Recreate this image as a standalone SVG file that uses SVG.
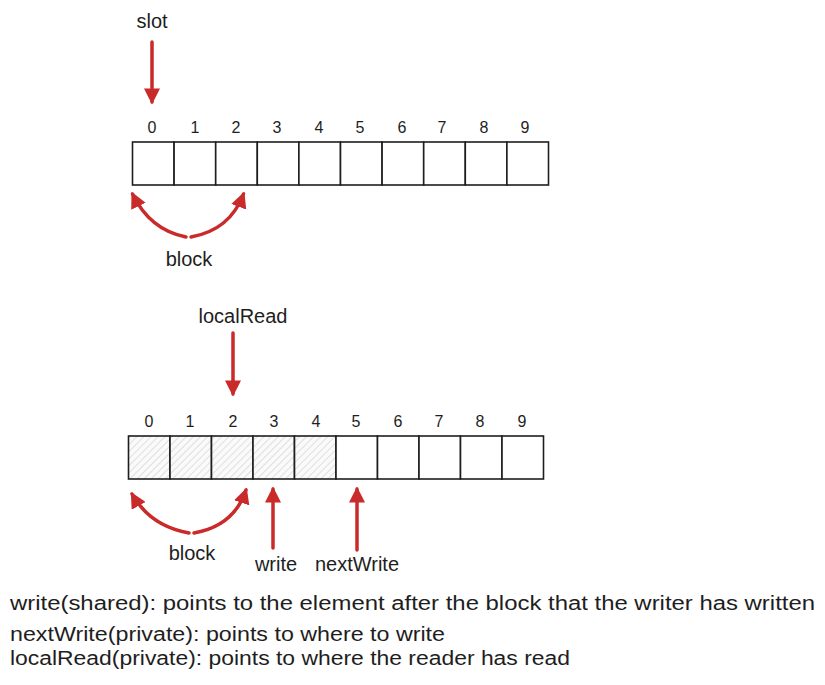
<svg xmlns="http://www.w3.org/2000/svg" width="825" height="685" viewBox="0 0 825 685">
<style>
text{font-family:"Liberation Sans",Arial,sans-serif;fill:#1e1e1e}
.num{font-size:16px;text-anchor:middle}
.lbl{font-size:20px;text-anchor:middle}
.note{font-size:20px}
.cell{fill:#fff;stroke:#1e1e1e;stroke-width:1.6}
.hcell{fill:url(#hatch);stroke:#1e1e1e;stroke-width:1.6}
.arr{fill:none;stroke:#c92a2a;stroke-width:3.5;stroke-linecap:round;marker-end:url(#head)}
</style>
<defs>
<marker id="head" viewBox="0 0 10 10" refX="8.5" refY="5" markerWidth="16" markerHeight="16" markerUnits="userSpaceOnUse" orient="auto">
<path d="M0,0 L10,5 L0,10 Z" fill="#c92a2a"/>
</marker>
<pattern id="hatch" patternUnits="userSpaceOnUse" width="5" height="5" patternTransform="rotate(45)">
<rect width="5" height="5" fill="#fafafa"/>
<line x1="0" y1="0" x2="0" y2="5" stroke="#c4c4c4" stroke-width="1"/>
</pattern>
</defs>

<g id="array-top">
<g id="top-cell-0"><rect class="cell" x="132.5" y="142" width="41.6" height="43"/><text class="num" x="152" y="133">0</text></g>
<g id="top-cell-1"><rect class="cell" x="174.1" y="142" width="41.6" height="43"/><text class="num" x="195" y="133">1</text></g>
<g id="top-cell-2"><rect class="cell" x="215.7" y="142" width="41.6" height="43"/><text class="num" x="236" y="133">2</text></g>
<g id="top-cell-3"><rect class="cell" x="257.3" y="142" width="41.6" height="43"/><text class="num" x="277" y="133">3</text></g>
<g id="top-cell-4"><rect class="cell" x="298.9" y="142" width="41.6" height="43"/><text class="num" x="319" y="133">4</text></g>
<g id="top-cell-5"><rect class="cell" x="340.5" y="142" width="41.6" height="43"/><text class="num" x="360" y="133">5</text></g>
<g id="top-cell-6"><rect class="cell" x="382.1" y="142" width="41.6" height="43"/><text class="num" x="402" y="133">6</text></g>
<g id="top-cell-7"><rect class="cell" x="423.7" y="142" width="41.6" height="43"/><text class="num" x="442" y="133">7</text></g>
<g id="top-cell-8"><rect class="cell" x="465.3" y="142" width="41.6" height="43"/><text class="num" x="484" y="133">8</text></g>
<g id="top-cell-9"><rect class="cell" x="506.9" y="142" width="41.6" height="43"/><text class="num" x="525" y="133">9</text></g>
</g>

<g id="array-bottom">
<g id="bot-cell-0"><rect class="hcell" x="128.5" y="436" width="41.5" height="43"/><text class="num" x="149" y="427">0</text></g>
<g id="bot-cell-1"><rect class="hcell" x="170" y="436" width="41.5" height="43"/><text class="num" x="190" y="427">1</text></g>
<g id="bot-cell-2"><rect class="hcell" x="211.5" y="436" width="41.5" height="43"/><text class="num" x="233" y="427">2</text></g>
<g id="bot-cell-3"><rect class="hcell" x="253" y="436" width="41.5" height="43"/><text class="num" x="274" y="427">3</text></g>
<g id="bot-cell-4"><rect class="hcell" x="294.5" y="436" width="41.5" height="43"/><text class="num" x="316" y="427">4</text></g>
<g id="bot-cell-5"><rect class="cell" x="336" y="436" width="41.5" height="43"/><text class="num" x="356" y="427">5</text></g>
<g id="bot-cell-6"><rect class="cell" x="377.5" y="436" width="41.5" height="43"/><text class="num" x="398" y="427">6</text></g>
<g id="bot-cell-7"><rect class="cell" x="419" y="436" width="41.5" height="43"/><text class="num" x="439" y="427">7</text></g>
<g id="bot-cell-8"><rect class="cell" x="460.5" y="436" width="41.5" height="43"/><text class="num" x="480" y="427">8</text></g>
<g id="bot-cell-9"><rect class="cell" x="502" y="436" width="41.5" height="43"/><text class="num" x="522" y="427">9</text></g>
</g>

<g id="label-slot"><text class="lbl" x="152" y="28">slot</text></g>
<g id="label-block-top"><text class="lbl" x="189" y="266">block</text></g>
<g id="label-localRead"><text class="lbl" x="243" y="323">localRead</text></g>
<g id="label-block-bottom"><text class="lbl" x="192" y="560">block</text></g>
<g id="label-write"><text class="lbl" x="276" y="571">write</text></g>
<g id="label-nextWrite"><text class="lbl" x="357" y="571">nextWrite</text></g>

<g id="notes">
<text class="note" x="10" y="610" textLength="805" lengthAdjust="spacingAndGlyphs">write(shared): points to the element after the block that the writer has written</text>
<text class="note" x="10" y="641" textLength="435" lengthAdjust="spacingAndGlyphs">nextWrite(private): points to where to write</text>
<text class="note" x="10" y="665" textLength="560" lengthAdjust="spacingAndGlyphs">localRead(private): points to where the reader has read</text>
</g>

<g id="connectors">
<path class="arr" d="M152,42 L152,102"/>
<path class="arr" d="M186,237 Q150,230 132.5,194"/>
<path class="arr" d="M191,237 Q230,230 243.5,194"/>
<path class="arr" d="M233,333 L233,394"/>
<path class="arr" d="M189,533 Q150,526 132,494"/>
<path class="arr" d="M194,533 Q234,526 246,490"/>
<path class="arr" d="M273,548 L273,489"/>
<path class="arr" d="M357,550 L357,489"/>
</g>
</svg>
